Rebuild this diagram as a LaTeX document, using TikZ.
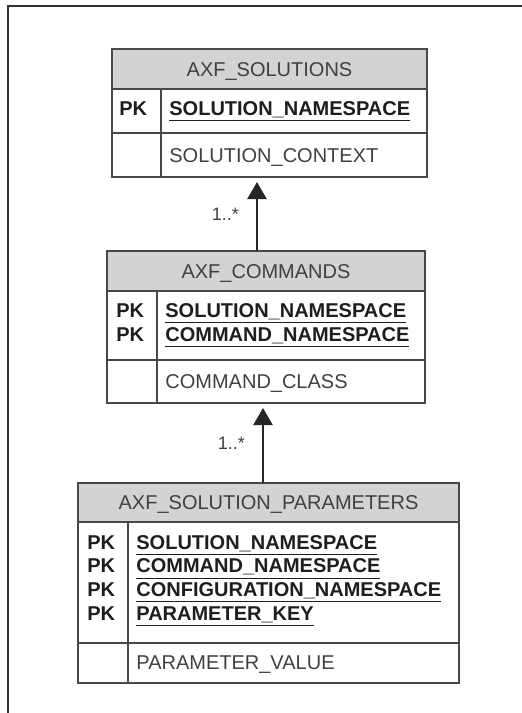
\documentclass[tikz,border=0pt]{standalone}
\usepackage{fontspec}
\setmainfont{Liberation Sans}
\usepackage{xcolor}
\usetikzlibrary{arrows.meta,calc,positioning}

\definecolor{hdrgray}{RGB}{211,211,211}
\definecolor{linegray}{RGB}{72,72,72}
\definecolor{txtgray}{RGB}{64,64,64}
\definecolor{keyblack}{RGB}{30,30,30}

\newcommand{\keyfield}[1]{\underline{\textbf{#1}}}

\tikzset{
  tabhead/.style={draw=linegray, fill=hdrgray, line width=0.8pt, outer sep=0pt, anchor=north west,
    minimum height=20pt, text height=7.2pt, text depth=0pt, text=txtgray, font=\fontsize{10}{12}\selectfont},
  tabrow/.style={draw=linegray, line width=0.8pt, outer sep=0pt, anchor=north west, inner sep=0pt},
  pktext/.style={anchor=base west, inner sep=0pt, text=keyblack, font=\fontsize{10}{12}\selectfont\bfseries},
  keytext/.style={pktext},
  valtext/.style={anchor=base west, inner sep=0pt, text=txtgray, font=\fontsize{10}{12}\selectfont},
  rel/.style={-{Triangle[width=9.5pt,length=8.5pt]}, line width=1.2pt, draw=black!85, shorten >=2.5pt},
  mult/.style={left=8.5pt, inner sep=0pt, text=txtgray, font=\fontsize{9}{10}\selectfont}
}

\begin{document}
\begin{tikzpicture}[x=0.5pt, y=-0.5pt]
\useasboundingbox (0,0) rectangle (522,713);
% frame
\draw[black!80, line width=1pt] (8,713) -- (8,6) -- (522,6);

% AXF_SOLUTIONS
\node[tabhead, minimum width=157.5pt] (solhead) at (112,49) {AXF\_SOLUTIONS};
\node[tabrow, minimum width=157.5pt, minimum height=22pt] (solkeys) at (solhead.south west) {};
\node[tabrow, minimum width=157.5pt, minimum height=22pt] (solvals) at (solkeys.south west) {};
\draw[linegray, line width=0.8pt] ($(solkeys.north west)+(49,0)$) -- ($(solvals.south west)+(49,0)$);
\node[pktext] (solpk1) at ($(solkeys.north west)+(7,26)$) {PK};
\node[keytext] (solkey1) at ($(solkeys.north west)+(57,26)$) {\keyfield{SOLUTION\_NAMESPACE}};
\node[valtext] (solval1) at ($(solvals.north west)+(57,29)$) {SOLUTION\_CONTEXT};

% AXF_COMMANDS
\node[tabhead, minimum width=159pt] (cmdhead) at (107,251) {AXF\_COMMANDS};
\node[tabrow, minimum width=159pt, minimum height=34.5pt] (cmdkeys) at (cmdhead.south west) {};
\node[tabrow, minimum width=159pt, minimum height=21.5pt] (cmdvals) at (cmdkeys.south west) {};
\draw[linegray, line width=0.8pt] ($(cmdkeys.north west)+(50,0)$) -- ($(cmdvals.south west)+(50,0)$);
\foreach \f [count=\i] in {SOLUTION\_NAMESPACE, COMMAND\_NAMESPACE} {
  \node[pktext] (cmdpk\i) at ($(cmdkeys.north west)+(9,{26+24*(\i-1)})$) {PK};
  \node[keytext] (cmdkey\i) at ($(cmdkeys.north west)+(58,{26+24*(\i-1)})$) {\keyfield{\f}};
}
\node[valtext] (cmdval1) at ($(cmdvals.north west)+(58,28)$) {COMMAND\_CLASS};

% AXF_SOLUTION_PARAMETERS
\node[tabhead, minimum width=190.5pt, minimum height=19.5pt] (parhead) at (78,483) {AXF\_SOLUTION\_PARAMETERS};
\node[tabrow, minimum width=190.5pt, minimum height=60.5pt] (parkeys) at (parhead.south west) {};
\node[tabrow, minimum width=190.5pt, minimum height=20pt] (parvals) at (parkeys.south west) {};
\draw[linegray, line width=0.8pt] ($(parkeys.north west)+(50,0)$) -- ($(parvals.south west)+(50,0)$);
\foreach \f [count=\i] in {SOLUTION\_NAMESPACE, COMMAND\_NAMESPACE, CONFIGURATION\_NAMESPACE, PARAMETER\_KEY} {
  \node[pktext] (parpk\i) at ($(parkeys.north west)+(9,{27+23.7*(\i-1)})$) {PK};
  \node[keytext] (parkey\i) at ($(parkeys.north west)+(58,{27+23.7*(\i-1)})$) {\keyfield{\f}};
}
\node[valtext] (parval1) at ($(parvals.north west)+(58,26)$) {PARAMETER\_VALUE};

% relations
\coordinate (solin) at ($(cmdhead.north west)+(150,0)$);
\draw[rel] (solin) -- (solin |- solvals.south) node[mult, midway] (solmult) {1..*};
\coordinate (cmdin) at ($(parhead.north west)+(185,0)$);
\draw[rel] (cmdin) -- (cmdin |- cmdvals.south) node[mult, midway] (cmdmult) {1..*};
\end{tikzpicture}
\end{document}
